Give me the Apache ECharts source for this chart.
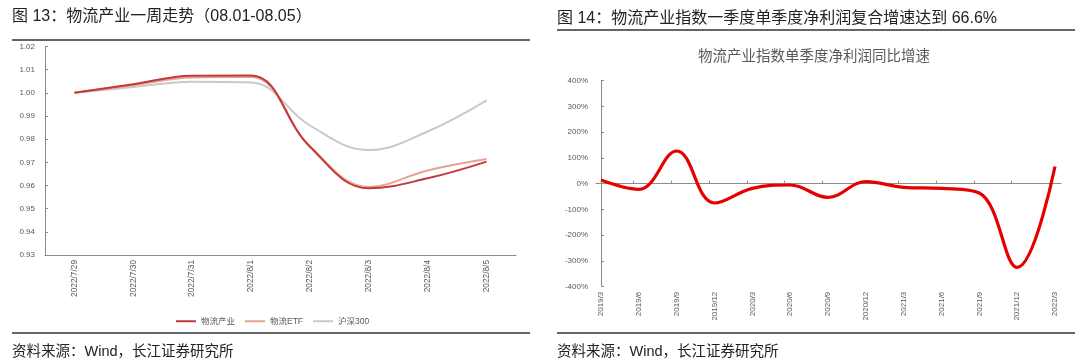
<!DOCTYPE html>
<html><head><meta charset="utf-8">
<script src="https://cdn.jsdelivr.net/npm/echarts@6/dist/echarts.min.js"></script>
<style>html,body{margin:0;padding:0;background:#fff}#c{width:1080px;height:364px}</style>
</head><body><div id="c"></div>
<script>
// ---- Left chart data (一周走势) ----
const dates = ['2022/7/29','2022/7/30','2022/7/31','2022/8/1','2022/8/2','2022/8/3','2022/8/4','2022/8/5'];
const wuliu  = [1.0000, 1.0037, 1.0074, 1.0075, 0.9767, 0.9588, 0.9631, 0.9703];
const etf    = [1.0000, 1.0033, 1.0066, 1.0068, 0.9770, 0.9594, 0.9665, 0.9714];
const hs300  = [1.0000, 1.0025, 1.0048, 1.0045, 0.9859, 0.9753, 0.9833, 0.9967];
const leftNames = ['物流产业', '物流ETF', '沪深300'];
// ---- Right chart data (单季度净利润同比增速, %) ----
const quarters = ['2019/3','2019/6','2019/9','2019/12','2020/3','2020/6','2020/9','2020/12','2021/3','2021/6','2021/9','2021/12','2022/3'];
const growth = [14, -22, 127, -75, -18, -5, -53, 8, -14, -18, -36, -325, 66.6];

const FF = "'Liberation Sans', 'Noto Sans CJK SC', sans-serif";
const AX = '#8c8c8c';
const LBL = '#595959';

const chart = echarts.init(document.getElementById('c'), null, {renderer: 'canvas'});

const tickOffset = 0.145;
const option = {
  animation: false,
  backgroundColor: '#fff',
  textStyle: {fontFamily: FF},
  graphic: [
    {type: 'text', left: 12, top: 9, style: {text: '图 13：物流产业一周走势（08.01-08.05）', font: '16px ' + FF, fill: '#222'}},
    {type: 'line', shape: {x1: 12, y1: 40, x2: 530, y2: 40}, style: {stroke: '#333', lineWidth: 1.5}},
    {type: 'line', shape: {x1: 12, y1: 333, x2: 530, y2: 333}, style: {stroke: '#333', lineWidth: 1.5}},
    {type: 'text', left: 12, top: 345, style: {text: '资料来源：Wind，长江证券研究所', font: '14.5px ' + FF, fill: '#222'}},
    {type: 'text', left: 557, top: 11, style: {text: '图 14：物流产业指数一季度单季度净利润复合增速达到 66.6%', font: '16px ' + FF, fill: '#222'}},
    {type: 'line', shape: {x1: 557, y1: 30, x2: 1075, y2: 30}, style: {stroke: '#333', lineWidth: 1.5}},
    {type: 'line', shape: {x1: 557, y1: 333, x2: 1075, y2: 333}, style: {stroke: '#333', lineWidth: 1.5}},
    {type: 'text', left: 557, top: 345, style: {text: '资料来源：Wind，长江证券研究所', font: '14.5px ' + FF, fill: '#222'}},
    {type: 'text', x: 814, y: 57, style: {text: '物流产业指数单季度净利润同比增速', font: '14.5px ' + FF, fill: LBL, align: 'center', verticalAlign: 'middle'}}
  ],
  legend: {
    left: 171, top: 312,
    itemWidth: 20, itemHeight: 2, itemGap: 10,
    icon: 'rect',
    textStyle: {fontSize: 8.5, color: LBL, fontFamily: FF},
    data: leftNames
  },
  grid: [
    {left: 45, top: 46.5, width: 471, height: 208.5},
    {left: 596, top: 80.7, width: 465, height: 206}
  ],
  xAxis: [
    {
      type: 'category', gridIndex: 0, data: dates, boundaryGap: true,
      axisLine: {lineStyle: {color: AX, width: 1}},
      axisTick: {inside: true, length: 3, lineStyle: {color: AX}},
      axisLabel: {rotate: 90, fontSize: 8.3, color: LBL, margin: 5, fontFamily: FF}
    },
    {
      type: 'value', gridIndex: 1, min: -0.132, max: 12.159,
      axisLine: {onZero: true, lineStyle: {color: AX, width: 1}},
      axisTick: {show: true, inside: true, length: 3, lineStyle: {color: AX},
        customValues: quarters.slice(1, -1).map((q, i) => i + 1 - tickOffset)},
      axisLabel: {show: false},
      splitLine: {show: false}
    },
    {
      type: 'value', gridIndex: 1, min: -0.132, max: 12.159, position: 'bottom',
      axisLine: {show: false, onZero: false},
      axisTick: {show: false},
      splitLine: {show: false},
      axisLabel: {rotate: 90, fontSize: 8, color: LBL, margin: 5, fontFamily: FF,
        customValues: quarters.map((q, i) => i),
        formatter: v => quarters[Math.round(v)] || ''}
    }
  ],
  yAxis: [
    {
      type: 'value', gridIndex: 0, min: 0.93, max: 1.02, interval: 0.01,
      axisLine: {show: true, lineStyle: {color: AX, width: 1}},
      axisTick: {show: true, inside: true, length: 3, lineStyle: {color: AX}},
      axisLabel: {fontSize: 8, color: LBL, margin: 10, fontFamily: FF, formatter: v => v.toFixed(2)},
      splitLine: {show: false}
    },
    {
      type: 'value', gridIndex: 1, min: -400, max: 400, interval: 100,
      axisLine: {show: true, lineStyle: {color: AX, width: 1}},
      axisTick: {show: true, inside: true, length: 3, lineStyle: {color: AX}},
      axisLabel: {fontSize: 8, color: LBL, margin: 8, fontFamily: FF, formatter: v => v + '%'},
      splitLine: {show: false}
    }
  ],
  series: [
    {name: leftNames[2], type: 'line', xAxisIndex: 0, yAxisIndex: 0, data: hs300, smooth: 0.4, showSymbol: false, symbol: 'none',
      itemStyle: {color: '#c9c9c9'}, lineStyle: {color: '#c9c9c9', width: 2}, z: 2},
    {name: leftNames[1], type: 'line', xAxisIndex: 0, yAxisIndex: 0, data: etf, smooth: 0.4, showSymbol: false, symbol: 'none',
      itemStyle: {color: '#e3a590'}, lineStyle: {color: '#e3a590', width: 2}, z: 3},
    {name: leftNames[0], type: 'line', xAxisIndex: 0, yAxisIndex: 0, data: wuliu, smooth: 0.4, showSymbol: false, symbol: 'none',
      itemStyle: {color: '#c4373a'}, lineStyle: {color: '#c4373a', width: 2}, z: 4},
    {name: '增速', type: 'line', xAxisIndex: 1, yAxisIndex: 1, data: growth.map((v, i) => [i, v]), smooth: 0.4, showSymbol: false, symbol: 'none',
      lineStyle: {color: '#e60000', width: 3.2}, z: 5}
  ]
};
chart.setOption(option);
</script></body></html>
